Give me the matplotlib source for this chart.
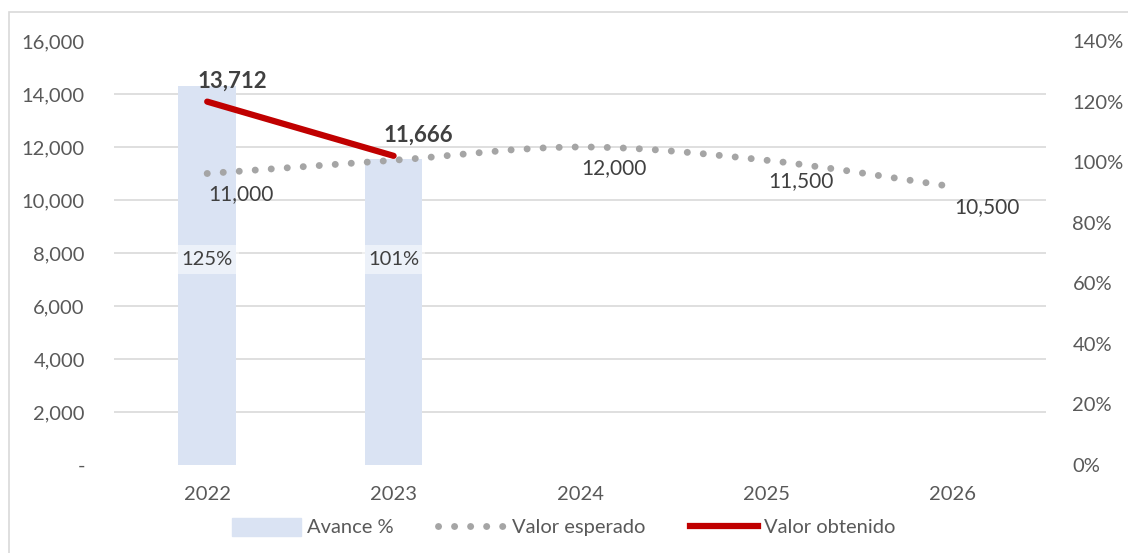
import numpy as np
import matplotlib
matplotlib.use("Agg")
import matplotlib.pyplot as plt
from matplotlib.path import Path
from matplotlib.patches import PathPatch, Rectangle, Patch
from matplotlib.lines import Line2D
from matplotlib.ticker import FuncFormatter

plt.rcParams['font.family'] = ['Lato', 'DejaVu Sans']

# chart data
years = ["2022", "2023", "2024", "2025", "2026"]
avance_pct = [1.25, 1.01]                      # bars, secondary axis
esperado = [11000, 11500, 12000, 11500, 10500]  # dotted smooth line
obtenido = [13712, 11666]                      # red line
esperado_labels = {0: "11,000", 2: "12,000", 3: "11,500", 4: "10,500"}

TXT = "#595959"
GRID = "#D9D9D9"
BAR = "#DAE3F3"
RED = "#C00000"
DOT = "#A5A5A5"
DOTS = (0, (0.01, 2.3))


def smooth_path(xs, ys):
    # excel-like smoothed line: cubic bezier through every point
    pts = np.column_stack([xs, ys]).astype(float)
    verts = [pts[0]]
    codes = [Path.MOVETO]
    n = len(pts)
    for i in range(n - 1):
        p0 = pts[i - 1] if i > 0 else pts[i]
        p1, p2 = pts[i], pts[i + 1]
        p3 = pts[i + 2] if i + 2 < n else pts[i + 1]
        verts += [p1 + (p2 - p0) / 6, p2 - (p3 - p1) / 6, p2]
        codes += [Path.CURVE4] * 3
    return Path(verts, codes)


def main():
    fig = plt.figure(figsize=(11.28, 5.53), dpi=100)
    ax = fig.add_axes([114 / 1128, 1 - 465 / 553, 932 / 1128, 424 / 553])
    ax2 = ax.twinx()
    ax.set_zorder(2)
    ax.patch.set_visible(False)

    x = np.arange(len(years))

    # bars (percent axis)
    ax2.bar(x[:len(avance_pct)], avance_pct, width=0.31, color=BAR, zorder=1)
    ax2.set_ylim(0, 1.4)
    ax2.set_yticks(np.arange(0, 1.41, 0.2))
    ax2.yaxis.set_major_formatter(FuncFormatter(lambda v, p: f"{v * 100:.0f}%"))
    # gridlines follow the left axis
    ax2.set_yticks(np.linspace(0, 1.4, 9), minor=True)
    ax2.grid(which='minor', color=GRID, linewidth=1.2)
    ax2.set_axisbelow(True)
    ax2.tick_params(which='both', length=0, labelsize=14.5, labelcolor=TXT, pad=19)
    for xi, v in zip(x, avance_pct):
        ax2.text(xi, 0.485, f"{v * 100:.0f}%", transform=ax2.get_xaxis_transform(),
                 ha='center', va='center', fontsize=14.5, color="#404040",
                 bbox=dict(boxstyle='square,pad=0.3', fc='white', ec='none', alpha=0.5),
                 zorder=3)

    # value axis
    ax.set_ylim(0, 16000)
    ax.set_xlim(-0.5, len(years) - 0.5)
    ax.set_yticks(np.arange(0, 16001, 2000))
    ax.yaxis.set_major_formatter(FuncFormatter(lambda v, p: "-" if v == 0 else f"{v:,.0f}"))
    ax.set_xticks(x)
    ax.set_xticklabels(years)
    ax.tick_params(length=0, labelsize=14.5, labelcolor=TXT)
    ax.tick_params(axis='y', pad=21)
    ax.tick_params(axis='x', pad=15)
    for a in (ax, ax2):
        for s in a.spines.values():
            s.set_visible(False)

    # expected values: smoothed dotted line
    patch = PathPatch(smooth_path(x, esperado), fill=False, edgecolor=DOT,
                      linewidth=5, linestyle=DOTS, capstyle='round', zorder=3)
    ax.add_patch(patch)
    for i, lab in esperado_labels.items():
        ax.annotate(lab, (x[i], esperado[i]), xytext=(1, -15), textcoords='offset points',
                    ha='left', va='center', fontsize=15, color="#404040")

    # obtained values
    ax.plot(x[:len(obtenido)], obtenido, color=RED, linewidth=4.5, solid_capstyle='round', zorder=4)
    for xi, v in zip(x, obtenido):
        ax.annotate(f"{v:,}", (xi, v), xytext=(18, 15), textcoords='offset points',
                    ha='center', va='center', fontsize=16, fontweight='bold', color="#404040")

    handles = [
        Patch(color=BAR),
        Line2D([], [], color=DOT, linewidth=5, linestyle=DOTS, dash_capstyle='round'),
        Line2D([], [], color=RED, linewidth=4.5),
    ]
    fig.legend(handles, ["Avance %", "Valor esperado", "Valor obtenido"],
               loc='center', bbox_to_anchor=(0.5, 1 - 527 / 553), ncol=3, frameon=False,
               fontsize=14.5, labelcolor=TXT, handlelength=3.4, handletextpad=0.3,
               columnspacing=2.2, handleheight=1.0)

    # chart area border
    fig.patches.append(Rectangle((9 / 1128, -0.1), 1.2, 1.1 - 12 / 553,
                                 transform=fig.transFigure, fill=False,
                                 edgecolor=GRID, linewidth=1.2))

    fig.savefig("out.png", dpi=100)


if __name__ == "__main__":
    main()
